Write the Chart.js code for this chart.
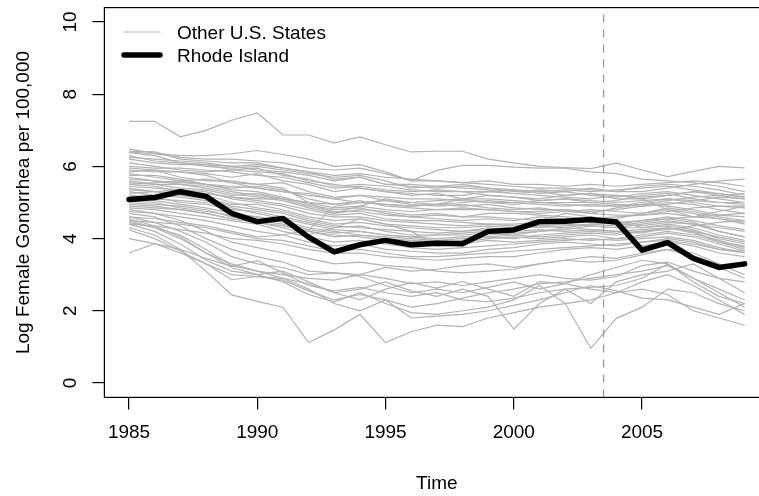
<!DOCTYPE html>
<html>
<head>
<meta charset="utf-8">
<script src="https://cdn.jsdelivr.net/npm/chart.js@4.4.0/dist/chart.umd.min.js"></script>
<style>
  html, body { margin: 0; padding: 0; background: #fff; }
</style>
</head>
<body>
<canvas id="canvas" width="759" height="496"></canvas>
<script>
// Data
const years = [1985, 1986, 1987, 1988, 1989, 1990, 1991, 1992, 1993, 1994, 1995, 1996,
  1997, 1998, 1999, 2000, 2001, 2002, 2003, 2004, 2005, 2006, 2007, 2008, 2009];

const rhodeIsland = [5.08, 5.14, 5.30, 5.17, 4.70, 4.47, 4.56, 4.04, 3.63, 3.83, 3.95, 3.83,
  3.87, 3.86, 4.20, 4.24, 4.47, 4.48, 4.53, 4.46, 3.68, 3.89, 3.45, 3.20, 3.30];

// one row per state, 1985 -> 2009
const otherStates = [
  [7.25,7.25,6.82,7.00,7.28, 7.48,6.87,6.87,6.65,6.82, 6.60,6.40,6.42,6.42,6.20, 6.10,6.00,5.97,5.94,6.09, 5.90,5.72,5.86,6.00,5.96],
  [6.48,6.37,6.30,6.30,6.35, 6.44,6.33,6.20,6.00,6.05, 5.85,5.60,5.60,5.55,5.50, 5.45,5.40,5.40,5.35,5.30, 5.30,5.40,5.50,5.60,5.65],
  [6.40,6.35,6.25,6.20,6.20, 6.15,6.10,5.95,5.90,5.95, 5.80,5.60,5.89,6.03,6.03, 5.98,5.95,5.95,5.85,5.80, 5.65,5.60,5.55,5.45,5.30],
  [6.38,6.30,6.10,6.00,5.95, 6.00,5.90,5.80,5.70,5.75, 5.60,5.40,5.45,5.50,5.40, 5.30,5.35,5.30,5.40,5.30, 5.45,5.50,5.45,5.35,5.20],
  [6.30,6.15,6.10,6.05,5.90, 5.85,5.80,5.60,5.50,5.40, 5.30,5.25,5.20,5.20,5.30, 5.25,5.20,5.15,5.10,5.20, 5.15,5.20,5.30,5.20,5.10],
  [6.20,6.10,6.05,6.05,6.00, 5.90,5.85,5.75,5.60,5.70, 5.50,5.50,5.45,5.40,5.35, 5.25,5.30,5.20,5.25,5.10, 5.10,4.80,4.60,4.75,4.90],
  [6.10,6.00,5.90,5.85,5.90, 5.95,5.75,5.65,5.45,5.50, 5.45,5.35,5.30,5.30,5.20, 5.15,5.05,5.10,5.00,5.05, 5.20,5.25,5.10,5.00,5.00],
  [5.95,5.90,5.85,5.80,5.70, 5.80,5.60,5.50,5.30,5.40, 5.30,5.20,5.25,5.10,5.00, 5.00,4.95,4.90,4.95,4.90, 5.00,5.10,5.00,4.90,4.85],
  [5.90,5.85,5.85,5.75,5.55, 5.50,5.55,5.30,5.15,5.20, 5.05,5.00,5.05,5.10,5.10, 5.05,5.00,5.00,5.00,4.95, 4.90,4.95,5.05,5.15,5.10],
  [5.85,5.90,5.70,5.60,5.60, 5.50,5.40,5.00,4.70,4.90, 5.10,5.00,4.95,4.90,4.95, 4.85,4.80,4.80,4.75,4.80, 4.90,5.00,4.95,4.80,4.70],
  [5.80,5.70,5.60,5.65,5.55, 5.40,5.30,5.25,5.10,5.00, 5.05,4.95,4.90,4.95,4.85, 4.80,4.85,4.75,4.70,4.85, 4.95,4.90,4.80,4.65,4.60],
  [5.75,5.75,5.65,5.50,5.40, 5.45,5.35,5.10,4.95,5.05, 4.90,4.85,4.80,4.80,4.80, 4.75,4.70,4.75,4.80,4.75, 4.70,4.85,4.75,4.60,4.50],
  [5.70,5.60,5.50,5.45,5.30, 5.20,5.10,5.00,4.85,4.90, 4.80,4.75,4.80,4.85,4.80, 4.75,4.75,4.80,4.70,4.65, 4.65,4.75,4.85,4.90,4.90],
  [5.65,5.60,5.55,5.50,5.35, 5.30,5.15,4.95,4.80,4.85, 4.70,4.60,4.65,4.60,4.70, 4.70,4.65,4.60,4.55,4.60, 4.65,4.70,4.60,4.55,4.45],
  [5.60,5.50,5.40,5.35,5.20, 5.25,5.10,4.90,4.75,4.75, 4.65,4.60,4.55,4.50,4.55, 4.50,4.60,4.55,4.50,4.55, 4.70,4.80,4.70,4.55,4.40],
  [5.55,5.50,5.50,5.40,5.25, 5.15,5.05,4.85,4.70,4.80, 4.75,4.65,4.70,4.60,4.60, 4.55,4.50,4.45,4.50,4.40, 4.50,4.60,4.50,4.35,4.25],
  [5.50,5.45,5.30,5.25,5.15, 5.05,4.95,4.80,4.65,4.70, 4.55,4.50,4.50,4.45,4.40, 4.40,4.45,4.50,4.45,4.40, 4.35,4.45,4.40,4.30,4.20],
  [5.45,5.40,5.35,5.30,5.10, 5.00,4.90,4.70,4.60,4.60, 4.50,4.45,4.40,4.35,4.40, 4.35,4.30,4.35,4.40,4.35, 4.45,4.55,4.45,4.20,4.05],
  [5.40,5.30,5.20,5.10,4.95, 4.95,4.80,4.60,4.50,4.55, 4.40,4.35,4.30,4.30,4.35, 4.30,4.35,4.40,4.35,4.30, 4.30,4.40,4.30,4.10,3.95],
  [5.35,5.30,5.25,5.20,5.00, 4.85,4.75,4.55,4.40,4.45, 4.35,4.30,4.25,4.20,4.25, 4.20,4.25,4.20,4.25,4.20, 4.25,4.30,4.20,4.05,3.90],
  [5.30,5.20,5.15,5.05,4.90, 4.80,4.70,4.50,4.35,4.30, 4.25,4.20,4.15,4.20,4.30, 4.25,4.50,4.70,4.60,4.50, 4.30,4.35,4.25,4.00,3.85],
  [5.20,5.15,5.00,4.95,4.80, 4.75,4.60,4.45,4.30,4.35, 4.20,4.10,4.10,4.15,4.20, 4.30,4.35,4.30,4.25,4.20, 4.15,4.30,4.15,3.95,3.75],
  [5.15,5.10,5.05,5.00,4.85, 4.70,4.55,4.40,4.25,4.20, 4.10,4.05,4.00,4.05,4.10, 4.15,4.20,4.25,4.35,4.30, 4.40,4.50,4.40,4.20,4.05],
  [5.10,5.05,4.95,4.85,4.70, 4.60,4.50,4.30,4.20,4.10, 4.05,4.00,3.95,4.00,4.05, 4.00,4.10,4.15,4.20,4.15, 4.20,4.30,4.20,3.90,3.70],
  [5.00,4.95,4.90,4.80,4.60, 4.50,4.40,4.20,4.10,4.05, 3.95,3.90,3.95,3.90,4.00, 4.05,4.00,4.05,4.10,4.00, 4.05,4.15,4.05,3.85,3.65],
  [4.95,4.90,4.80,4.70,4.55, 4.45,4.30,4.10,4.30,4.55, 4.40,4.20,3.80,3.85,3.95, 3.90,3.95,4.00,3.95,4.00, 4.10,4.20,4.10,3.90,3.80],
  [4.85,4.80,4.70,4.60,4.50, 4.40,4.20,4.05,3.90,3.95, 3.85,3.75,3.70,3.75,3.80, 3.85,3.90,3.95,4.00,3.95, 4.00,4.05,3.95,3.75,3.60],
  [4.75,4.70,4.60,4.50,4.35, 4.20,4.10,3.90,3.80,3.85, 3.70,3.65,3.60,3.60,3.70, 3.75,3.85,3.90,3.85,3.80, 3.90,4.00,3.90,3.70,3.65],
  [4.60,4.55,4.45,4.35,4.20, 4.05,4.10,4.24,4.89,5.00, 4.95,4.90,4.95,5.10,5.20, 5.15,5.10,5.20,5.25,5.20, 5.10,5.20,5.30,5.25,5.15],
  [4.50,4.45,4.40,4.30,4.15, 4.00,3.95,3.80,3.65,3.70, 3.60,3.50,3.50,3.55,3.60, 3.65,3.70,3.75,3.80,3.85, 3.90,3.95,3.85,3.70,3.60],
  [4.40,4.35,4.25,4.15,4.00, 3.95,3.85,3.70,3.60,3.60, 3.50,3.45,3.40,3.45,3.50, 3.50,3.60,3.70,3.75,3.70, 3.80,3.90,3.80,3.60,3.50],
  [6.00,5.95,5.95,5.90,5.85, 5.75,5.70,5.55,5.40,5.45, 5.35,5.30,5.35,5.30,5.30, 5.35,5.30,5.35,5.30,5.35, 5.40,5.45,5.35,5.25,5.15],
  [5.25,5.30,5.35,5.25,5.15, 5.10,5.10,5.00,4.95,5.00, 4.95,4.90,4.95,5.00,5.05, 5.00,5.05,5.10,5.05,5.00, 5.05,5.10,5.05,5.00,4.95],
  [5.05,5.00,4.85,4.75,4.65, 4.60,4.45,4.25,4.15,4.20, 4.10,4.05,4.10,4.10,4.15, 4.10,4.05,4.10,4.15,4.10, 4.20,4.25,4.35,4.45,4.50],
  [6.25,6.20,6.15,6.10,6.00, 6.05,5.95,5.85,5.75,5.80, 5.70,5.65,5.60,5.55,5.60, 5.50,5.50,5.45,5.50,5.45, 5.50,5.55,5.60,5.55,5.45],
  [5.50,5.55,5.60,5.50,5.45, 5.40,5.30,5.20,5.10,5.20, 5.15,5.10,5.10,5.05,5.00, 4.95,5.00,4.95,4.90,4.90, 4.95,5.05,5.15,5.20,5.25],
  [4.90,4.85,4.80,4.70,4.55, 4.45,4.35,4.20,4.05,4.10, 4.00,3.95,3.90,3.95,4.05, 4.10,4.20,4.30,4.40,4.45, 4.50,4.55,4.60,4.65,4.70],
  [6.42,6.40,6.20,6.15,6.10, 6.10,5.95,5.85,5.65,5.70, 5.50,5.45,5.40,5.45,5.40, 5.35,5.25,5.30,5.20,5.15, 5.25,5.30,5.20,5.10,5.00],
  [4.00,3.86,3.60,3.30,3.00, 2.95,2.85,2.55,2.30,2.45, 2.30,2.10,2.20,2.35,2.50, 2.60,2.75,2.80,2.90,3.00, 3.10,3.25,2.90,2.60,2.30],
  [3.60,3.86,3.70,3.45,3.23, 3.39,3.05,2.70,2.55,2.65, 2.50,2.40,2.50,2.30,2.25, 2.35,2.50,2.60,2.65,2.70, 2.90,3.30,2.90,2.50,2.10],
  [4.24,4.00,3.65,3.30,2.86, 2.95,2.90,2.60,2.20,2.00, 2.30,1.80,1.85,1.90,2.00, 2.15,2.30,2.50,2.70,2.55, 2.35,2.30,2.10,1.90,2.20],
  [4.30,4.10,3.70,3.10,2.44, 2.26,2.10,1.12,1.47,1.90, 1.12,1.42,1.60,1.56,1.80, 1.95,2.10,2.20,2.30,2.50, 2.60,2.45,2.00,1.80,1.60],
  [4.50,4.30,4.00,3.60,3.20, 3.00,3.10,2.80,2.50,2.60, 2.80,2.55,2.40,2.60,2.40, 1.49,2.20,2.60,2.20,2.80, 3.00,3.10,3.30,2.90,2.50],
  [4.40,4.20,3.85,3.40,3.10, 3.00,2.80,2.45,2.25,2.50, 2.20,1.95,1.90,2.00,2.10, 2.30,2.70,2.20,0.96,1.79, 2.10,2.60,2.50,2.20,2.00],
  [4.45,4.30,4.10,3.70,3.25, 3.10,2.90,2.75,2.50,2.30, 2.60,2.78,2.63,2.81,2.60, 2.40,2.81,2.75,2.60,2.50, 2.80,3.00,2.70,2.30,1.90],
  [4.55,4.35,4.05,3.60,3.30, 3.10,3.00,2.90,2.85,3.00, 2.90,2.75,2.80,2.70,2.80, 2.90,3.00,2.90,2.85,2.95, 3.25,3.35,3.10,2.90,2.80],
  [4.60,4.45,4.20,3.90,3.50, 3.30,3.20,3.00,3.05,2.95, 2.70,2.50,2.60,2.50,2.65, 2.80,2.60,2.75,3.00,3.20, 3.40,3.30,2.80,2.40,2.20],
  [4.70,4.60,4.35,4.00,3.70, 3.50,3.35,3.10,3.05,3.00, 3.20,3.10,3.15,3.25,3.30, 3.20,3.30,3.40,3.50,3.45, 3.60,3.70,3.50,3.20,2.90],
  [4.80,4.70,4.50,4.20,3.90, 3.75,3.60,3.45,3.30,3.35, 3.25,3.20,3.10,3.05,3.10, 3.15,3.30,3.40,3.35,3.40, 3.55,3.70,3.60,3.30,3.00]
];

const xTicks = [1985, 1990, 1995, 2000, 2005];
const yTicks = [0, 2, 4, 6, 8, 10];
const treatmentYear = 2003.5;
const legendLabels = ['Other U.S. States', 'Rhode Island'];
const xTitle = 'Time';
const yTitle = 'Log Female Gonorrhea per 100,000';

const FONT = '"Liberation Sans", Arial, Helvetica, sans-serif';
const GREY = '#b3b3b3';

function toPoints(values) {
  return values.map((v, i) => ({ x: years[i], y: v }));
}

// first dataset is drawn on top in Chart.js
const datasets = [
  {
    data: toPoints(rhodeIsland),
    borderColor: '#000',
    borderWidth: 5.5,
    borderCapStyle: 'round',
    borderJoinStyle: 'round'
  },
  {
    data: [{ x: treatmentYear, y: -0.4 }, { x: treatmentYear, y: 10.4 }],
    borderColor: '#9a9a9a',
    borderWidth: 1.3,
    borderDash: [8, 7]
  }
];
otherStates.forEach(state => {
  datasets.push({ data: toPoints(state), borderColor: GREY, borderWidth: 1.2 });
});

function clearPadding(scale) {
  scale.paddingTop = 0;
  scale.paddingBottom = 0;
  scale.paddingLeft = 0;
  scale.paddingRight = 0;
}

// box, legend and axis titles
const extras = {
  id: 'extras',
  afterDraw(chart) {
    const { ctx, chartArea: a, scales: { x, y } } = chart;
    ctx.save();
    ctx.strokeStyle = '#000';
    ctx.lineWidth = 1.2;
    ctx.strokeRect(a.left, a.top, 700, a.bottom - a.top);

    ctx.fillStyle = '#000';
    ctx.font = '19px ' + FONT;
    ctx.textBaseline = 'alphabetic';

    // legend
    ctx.lineCap = 'round';
    ctx.strokeStyle = GREY;
    ctx.lineWidth = 1.2;
    ctx.beginPath(); ctx.moveTo(124, 32); ctx.lineTo(160, 32); ctx.stroke();
    ctx.strokeStyle = '#000';
    ctx.lineWidth = 5.5;
    ctx.beginPath(); ctx.moveTo(124, 55); ctx.lineTo(160, 55); ctx.stroke();
    ctx.textAlign = 'left';
    ctx.fillText(legendLabels[0], 177, 39.3);
    ctx.fillText(legendLabels[1], 177, 62.3);

    // axis titles
    ctx.textAlign = 'center';
    ctx.fillText(xTitle, x.getPixelForValue(1997), 489);
    ctx.translate(29.3, (a.top + a.bottom) / 2);
    ctx.rotate(-Math.PI / 2);
    ctx.fillText(yTitle, 0, 0);
    ctx.restore();
  }
};

new Chart(document.getElementById('canvas'), {
  type: 'line',
  data: { datasets: datasets },
  options: {
    responsive: false,
    animation: false,
    events: [],
    layout: { padding: { top: 7.6, left: 0, right: 0, bottom: 0 } },
    elements: { point: { radius: 0 }, line: { tension: 0, fill: false } },
    plugins: { legend: { display: false }, tooltip: { enabled: false } },
    scales: {
      x: {
        type: 'linear',
        min: 1984.04,
        max: 2009.56,
        afterBuildTicks: s => { s.ticks = xTicks.map(v => ({ value: v })); },
        afterFit: s => { s.height = 98.6; clearPadding(s); },
        border: { display: false },
        grid: { drawOnChartArea: false, drawTicks: true, tickLength: 12, color: '#000', lineWidth: 1.2 },
        ticks: {
          font: { family: FONT, size: 19 },
          color: '#000',
          padding: 12,
          maxRotation: 0,
          autoSkip: false,
          callback: v => String(v)
        }
      },
      y: {
        type: 'linear',
        min: -0.4,
        max: 10.4,
        afterBuildTicks: s => { s.ticks = yTicks.map(v => ({ value: v })); },
        afterFit: s => { s.width = 104.4; clearPadding(s); },
        border: { display: false },
        grid: { drawOnChartArea: false, drawTicks: true, tickLength: 12, color: '#000', lineWidth: 1.2 },
        ticks: {
          font: { family: FONT, size: 19 },
          color: '#000',
          padding: 11,
          minRotation: 90,
          maxRotation: 90,
          crossAlign: 'center',
          callback: v => String(v)
        }
      }
    }
  },
  plugins: [extras]
});
</script>
</body>
</html>
